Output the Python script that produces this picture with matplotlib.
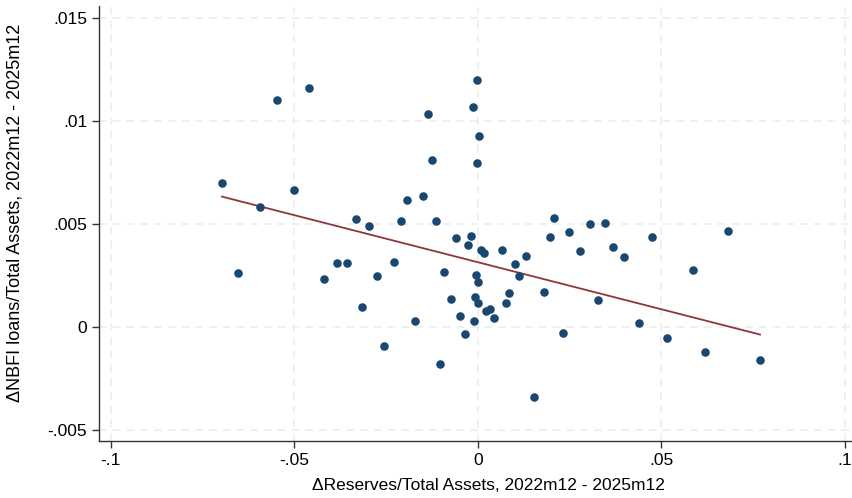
import numpy as np
import matplotlib
matplotlib.use("Agg")
import matplotlib.pyplot as plt

plt.rcParams['font.family'] = ['Liberation Sans', 'DejaVu Sans']

# change in reserves / total assets (x) and change in NBFI loans / total assets (y)
d_reserves = [-0.06966, -0.05931, -0.05460, -0.04605, -0.04997, -0.03325, -0.02955,
              -0.02100, -0.01928, -0.01492, -0.01356, -0.01239, -0.01130, -0.00594,
              -0.00185, -0.00259, -0.00008, -0.00131, 0.00033, -0.00027, 0.00101,
              0.00169, 0.00651, 0.02083, 0.01958, 0.02484, 0.03064, 0.03472, 0.03690,
              0.04736, 0.06814, 0.02775, 0.03981, 0.01005, 0.01304, -0.06530, -0.04180,
              -0.03826, -0.03554, -0.03154, -0.02745, -0.02546, -0.02282, -0.01710,
              -0.01029, -0.00915, -0.00738, -0.00477, -0.00354, -0.00103, -0.00071,
              -0.00049, -0.00005, 0.00011, 0.01122, 0.05869, 0.00858, 0.00768, 0.01803,
              0.03273, 0.00237, 0.00327, 0.00441, 0.02312, 0.04398, 0.05161, 0.06187,
              0.07685, 0.01522]
d_nbfi = [0.00699, 0.00583, 0.01102, 0.01159, 0.00662, 0.00521, 0.00490, 0.00513,
          0.00614, 0.00636, 0.01031, 0.00809, 0.00512, 0.00429, 0.00442, 0.00397,
          0.01199, 0.01068, 0.00924, 0.00795, 0.00370, 0.00358, 0.00371, 0.00529,
          0.00433, 0.00458, 0.00497, 0.00503, 0.00386, 0.00434, 0.00463, 0.00366,
          0.00338, 0.00304, 0.00343, 0.00262, 0.00233, 0.00308, 0.00309, 0.00096,
          0.00248, -0.00094, 0.00316, 0.00028, -0.00183, 0.00264, 0.00136, 0.00052,
          -0.00037, 0.00028, 0.00144, 0.00250, 0.00216, 0.00114, 0.00246, 0.00275,
          0.00165, 0.00114, 0.00168, 0.00128, 0.00076, 0.00087, 0.00042, -0.00031,
          0.00019, -0.00055, -0.00124, -0.00162, -0.00341]

# fitted line as shown in the chart
fit_intercept = 0.00313
fit_slope = -0.0457

x_ticks = [-0.1, -0.05, 0, 0.05, 0.1]
x_labels = ['-.1', '-.05', '0', '.05', '.1']
y_ticks = [-0.005, 0, 0.005, 0.01, 0.015]
y_labels = ['-.005', '0', '.005', '.01', '.015']

x = np.array(d_reserves)
y = np.array(d_nbfi)

fig = plt.figure(figsize=(8.53, 4.98), dpi=100)
ax = fig.add_axes([0.116, 0.1145, 0.884, 0.8735])

ax.grid(True, color='#ebebeb', linestyle=(0, (5, 4)), linewidth=1.1)
ax.set_axisbelow(True)

ax.scatter(x, y, s=38, color='#1a476f', zorder=3, linewidths=0)

xs = np.array([x.min(), x.max()])
ax.plot(xs, fit_intercept + fit_slope * xs, color='#90353b', linewidth=1.3, zorder=2)

ax.set_xlim(-0.10316, 0.10218)
ax.set_ylim(-0.005549, 0.015568)
ax.set_xticks(x_ticks)
ax.set_xticklabels(x_labels)
ax.set_yticks(y_ticks)
ax.set_yticklabels(y_labels)

for s in ['top', 'right']:
    ax.spines[s].set_visible(False)
for s in ['left', 'bottom']:
    ax.spines[s].set_color('#333333')
    ax.spines[s].set_linewidth(1.0)

ax.tick_params(axis='both', labelsize=12.5, length=5, color='#333333', width=1)
ax.set_xlabel('\u0394Reserves/Total Assets, 2022m12 - 2025m12', fontsize=12.5, labelpad=8)
ax.set_ylabel('\u0394NBFI loans/Total Assets, 2022m12 - 2025m12', fontsize=13, labelpad=14)
ax.xaxis.set_label_coords(0.516, -0.085)
ax.yaxis.set_label_coords(-0.1, 0.524)

fig.savefig('out.png', dpi=100, facecolor='white')
